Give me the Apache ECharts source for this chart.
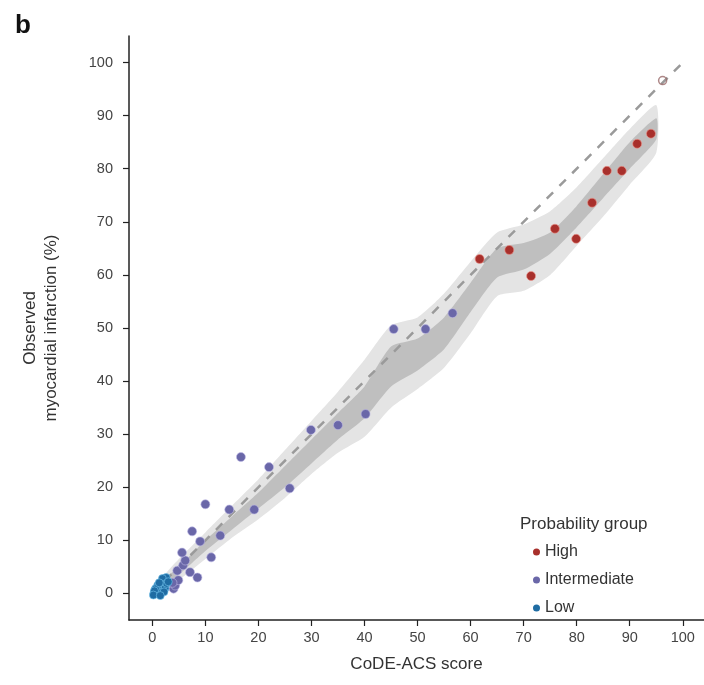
<!DOCTYPE html>
<html>
<head>
<meta charset="utf-8">
<script src="https://cdn.jsdelivr.net/npm/echarts@6/dist/echarts.min.js"></script>
<style>html,body{margin:0;padding:0;background:#fff}#c{width:704px;height:685px}</style>
</head>
<body>
<div id="c"></div>
<script>
var xTicks = [0,10,20,30,40,50,60,70,80,90,100];
var yTicks = [0,10,20,30,40,50,60,70,80,90,100];

var highPts = [[61.7,63.0],[67.3,64.7],[71.4,59.8],[75.9,68.7],[79.9,66.8],[82.9,73.6],[85.7,79.6],[88.5,79.6],[91.4,84.7],[94.0,86.6]];
var highOpen = [[96.2,96.6]];
var interPts = [[4.0,0.9],[4.3,1.5],[4.9,2.5],[3.8,2.0],[4.7,4.3],[5.8,5.3],[6.2,6.2],[5.6,7.7],[7.1,4.0],[8.5,3.0],[9.0,9.8],[7.5,11.7],[11.1,6.8],[12.8,10.9],[10.0,16.8],[14.5,15.8],[19.2,15.8],[16.7,25.7],[22.0,23.8],[25.9,19.8],[29.9,30.8],[35.0,31.7],[40.2,33.8],[45.5,49.8],[51.5,49.8],[56.6,52.8]];
var lowPts = [[0.3,0.1],[0.5,0],[0.8,0.4],[1,0.2],[1.2,0.8],[1.4,0],[1.6,1.2],[1.8,0.5],[2,1.8],[2.2,2.4],[2.4,1],[2.6,3],[2.2,0.3],[1,1.5],[0.6,0.9],[1.9,2.8],[2.7,1.9],[3,2.2],[1.3,2],[0.4,0.5],[0.2,-0.3],[1.5,-0.4]];

var bandX   = [2, 5, 10, 15, 20, 25, 30, 35, 40, 45, 50, 55, 60, 65, 70, 75, 80, 85, 90, 95];
var outerLo = [0.5, 2.5, 6.5, 10.5, 14, 18, 22.5, 26.5, 29.5, 35, 38.5, 42.5, 49, 56, 57, 60, 65.5, 71, 77, 83];
var outerHi = [3, 6.5, 11.5, 16.5, 21.5, 27, 32.5, 38, 44, 50.5, 52, 56.5, 62.5, 68, 69.5, 72, 76.5, 82, 87.5, 92];
var innerLo = [1, 3.5, 8, 12, 16, 20, 24.5, 29, 33, 39, 42, 46, 53, 59.5, 61, 64, 69, 74.5, 80, 85.5];
var innerHi = [2.5, 5, 10, 14.5, 19, 24, 29, 34, 39, 46.5, 48, 52, 58.5, 65, 66, 68, 73, 79, 85, 89.5];

var refLine = [[0,0],[100,100]];

function bandSeries(lo, hi, color, z) {
  return {
    type: 'custom',
    z: z,
    silent: true,
    data: bandX.map(function (x, i) { return [x, lo[i], hi[i]]; }),
    encode: { x: 0, y: [1, 2] },
    renderItem: function (params, api) {
      if (params.dataIndex !== 0) return null;
      var pts = [];
      for (var i = 0; i < bandX.length; i++) pts.push(api.coord([bandX[i], hi[i]]));
      for (var j = bandX.length - 1; j >= 0; j--) pts.push(api.coord([bandX[j], lo[j]]));
      return { type: 'polygon', shape: { points: pts, smooth: 0.2 }, style: { fill: color } };
    }
  };
}

var chart = echarts.init(document.getElementById('c'));
var FONT = 'Liberation Sans';
chart.setOption({
  animation: false,
  textStyle: { fontFamily: FONT },
  grid: { left: 129, right: 0, top: 36, bottom: 65 },
  title: [
    { text: 'b', left: 10, top: 8, textStyle: { fontSize: 26, fontWeight: 'bold', color: '#111', fontFamily: FONT } },
    { text: 'Probability group', left: 515, top: 511, textStyle: { fontSize: 17, fontWeight: 'normal', color: '#333', fontFamily: FONT } }
  ],
  legend: {
    orient: 'vertical', left: 528, top: 539, itemGap: 12, itemWidth: 7, itemHeight: 7,
    textStyle: { fontSize: 16, color: '#333', fontFamily: FONT },
    data: [
      { name: 'High', icon: 'circle', itemStyle: { borderWidth: 0 } },
      { name: 'Intermediate', icon: 'circle', itemStyle: { borderWidth: 0 } },
      { name: 'Low', icon: 'circle', itemStyle: { borderWidth: 0 } }
    ]
  },
  xAxis: {
    type: 'value', min: -4.4, max: 104, interval: 10,
    name: 'CoDE-ACS score', nameLocation: 'middle', nameGap: 36,
    nameTextStyle: { fontSize: 17, color: '#333' },
    axisLine: { show: true, onZero: false, lineStyle: { color: '#222', width: 1.5 } },
    axisTick: { show: true, length: 6, lineStyle: { color: '#222', width: 1.2 }, customValues: xTicks },
    axisLabel: { fontSize: 14.5, color: '#444', margin: 10, customValues: xTicks },
    splitLine: { show: false }
  },
  yAxis: {
    type: 'value', min: -5, max: 105, interval: 10,
    name: 'Observed\nmyocardial infarction (%)', nameLocation: 'middle', nameGap: 67,
    nameTextStyle: { fontSize: 17, color: '#333', lineHeight: 21 },
    axisLine: { show: true, onZero: false, lineStyle: { color: '#222', width: 1.5 } },
    axisTick: { show: true, length: 6, lineStyle: { color: '#222', width: 1.2 }, customValues: yTicks },
    axisLabel: { fontSize: 14.5, color: '#444', margin: 16, customValues: yTicks },
    splitLine: { show: false }
  },
  series: [
    bandSeries(outerLo, outerHi, '#e4e4e4', 1),
    bandSeries(innerLo, innerHi, '#bfbfbf', 2),
    {
      type: 'line', data: refLine, z: 3, symbol: 'none', silent: true,
      lineStyle: { color: '#9a9a9a', width: 2.5, type: [9, 9] }
    },
    {
      name: 'High', type: 'scatter', data: highPts, z: 5, symbolSize: 9,
      itemStyle: { color: '#a8302c', borderColor: 'rgba(240,150,140,0.6)', borderWidth: 1, opacity: 1 }
    },
    {
      name: 'High', type: 'scatter', data: highOpen, z: 5, symbolSize: 8,
      itemStyle: { color: 'rgba(255,255,255,0)', borderColor: '#9a6a6a', borderWidth: 1.5 }
    },
    {
      name: 'Intermediate', type: 'scatter', data: interPts, z: 4, symbolSize: 9,
      itemStyle: { color: '#6a67a8', borderColor: 'rgba(190,185,230,0.6)', borderWidth: 1, opacity: 1 }
    },
    {
      name: 'Low', type: 'scatter', data: lowPts, z: 6, symbolSize: 8,
      itemStyle: { color: '#1f6ca3', borderColor: 'rgba(120,200,240,0.6)', borderWidth: 1, opacity: 1 }
    }
  ]
});
</script>
</body>
</html>
